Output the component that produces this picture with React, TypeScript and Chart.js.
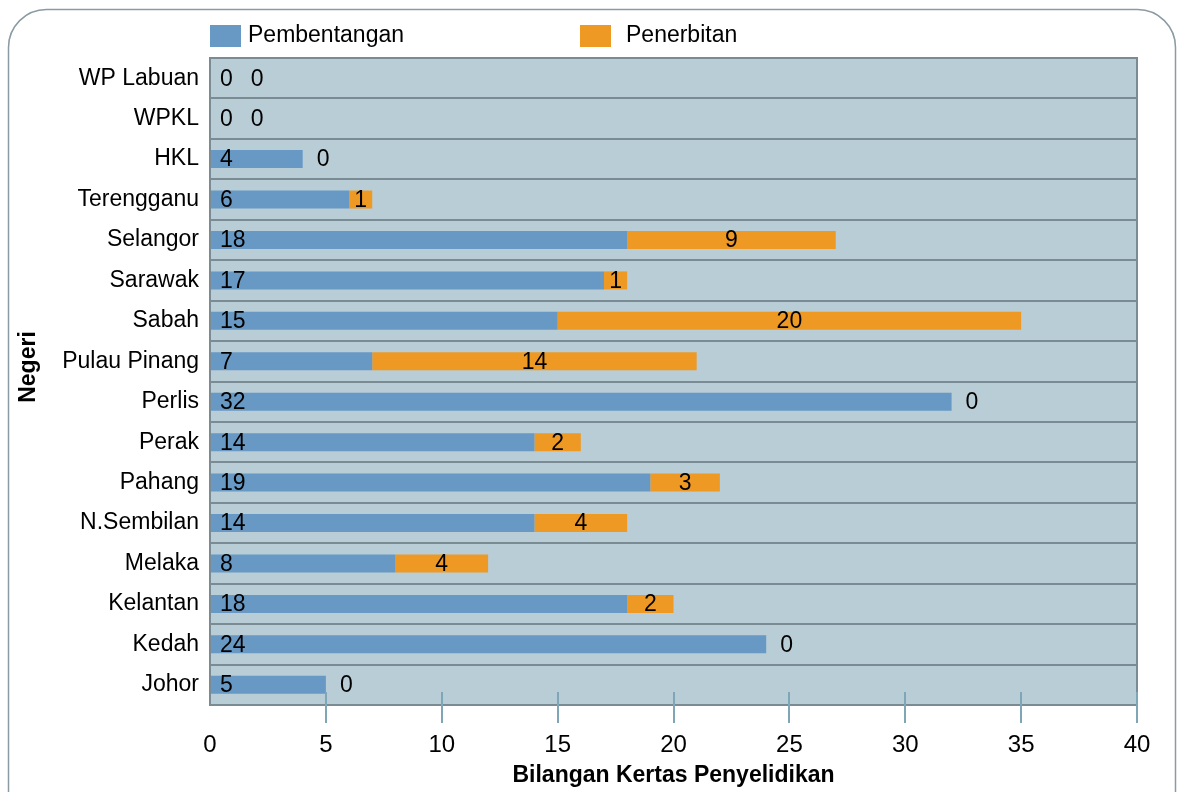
import React, { useEffect, useRef } from "react";
import { Chart, registerables } from "chart.js";

Chart.register(...registerables);

const categories = [
  "WP Labuan",
  "WPKL",
  "HKL",
  "Terengganu",
  "Selangor",
  "Sarawak",
  "Sabah",
  "Pulau Pinang",
  "Perlis",
  "Perak",
  "Pahang",
  "N.Sembilan",
  "Melaka",
  "Kelantan",
  "Kedah",
  "Johor",
];
const pembentangan = [0, 0, 4, 6, 18, 17, 15, 7, 32, 14, 19, 14, 8, 18, 24, 5];
const penerbitan = [0, 0, 0, 1, 9, 1, 20, 14, 0, 2, 3, 4, 4, 2, 0, 0];
const seriesNames = ["Pembentangan", "Penerbitan"];
const seriesColors = ["#6899c4", "#ee9923"];
const xMin = 0;
const xMax = 40;
const xStep = 5;
const xTitle = "Bilangan Kertas Penyelidikan";
const yTitle = "Negeri";

const FONT = '"Liberation Sans", Arial, sans-serif';

const decorPlugin = {
  id: "decor",
  beforeDraw(chart: any) {
    const { ctx, chartArea } = chart;
    ctx.save();
    // outer rounded frame
    ctx.strokeStyle = "#8a9ba4";
    ctx.lineWidth = 1.5;
    ctx.beginPath();
    (ctx as any).roundRect(8.5, 9.5, 1167, 830, 38);
    ctx.stroke();
    // plot background
    ctx.fillStyle = "#b8cdd6";
    ctx.fillRect(chartArea.left, chartArea.top, chartArea.right - chartArea.left, chartArea.bottom - chartArea.top);
    ctx.restore();
  },
  afterDatasetsDraw(chart: any) {
    const { ctx } = chart;
    const m0 = chart.getDatasetMeta(0);
    const m1 = chart.getDatasetMeta(1);
    ctx.save();
    ctx.font = `23px ${FONT}`;
    ctx.fillStyle = "#000";
    ctx.textBaseline = "middle";
    categories.forEach((_, i) => {
      const b0 = m0.data[i];
      const b1 = m1.data[i];
      const y = b0.y + 1;
      const t0 = String(pembentangan[i]);
      ctx.textAlign = "left";
      ctx.fillText(t0, b0.base + 10, y);
      const w0 = ctx.measureText(t0).width;
      const t1 = String(penerbitan[i]);
      if (penerbitan[i] > 0) {
        ctx.textAlign = "center";
        ctx.fillText(t1, (b1.base + b1.x) / 2, y);
      } else {
        ctx.textAlign = "left";
        ctx.fillText(t1, Math.max(b0.x + 14, b0.base + 10 + w0 + 18), y);
      }
    });
    ctx.restore();
  },
  afterDraw(chart: any) {
    const { ctx, chartArea } = chart;
    const xs = chart.scales.x;
    ctx.save();
    // plot frame
    ctx.strokeStyle = "#7a8b94";
    ctx.lineWidth = 2;
    ctx.strokeRect(chartArea.left, chartArea.top, chartArea.right - chartArea.left, chartArea.bottom - chartArea.top);
    // tick marks
    ctx.strokeStyle = "#7fa6b6";
    ctx.lineWidth = 2;
    for (let v = xMin + xStep; v <= xMax; v += xStep) {
      const px = Math.round(xs.getPixelForValue(v));
      ctx.beginPath();
      ctx.moveTo(px, chartArea.bottom - 13);
      ctx.lineTo(px, chartArea.bottom + 18);
      ctx.stroke();
    }
    // legend
    const legendX = [210, 580];
    ctx.font = `23px ${FONT}`;
    ctx.textBaseline = "alphabetic";
    ctx.textAlign = "left";
    seriesNames.forEach((name, i) => {
      ctx.fillStyle = seriesColors[i];
      ctx.fillRect(legendX[i], 25, 31, 22);
      ctx.fillStyle = "#000";
      ctx.fillText(name, legendX[i] + (i === 0 ? 38 : 46), 42);
    });
    // axis titles
    ctx.font = `bold 23px ${FONT}`;
    ctx.textAlign = "center";
    ctx.fillText(xTitle, (chartArea.left + chartArea.right) / 2, 782);
    ctx.translate(35, 367);
    ctx.rotate(-Math.PI / 2);
    ctx.fillText(yTitle, 0, 0);
    ctx.restore();
  },
};

export default function App() {
  const ref = useRef<HTMLCanvasElement | null>(null);
  useEffect(() => {
    if (!ref.current) return;
    const chart = new Chart(ref.current, {
      type: "bar",
      data: {
        labels: categories,
        datasets: [
          {
            label: seriesNames[0],
            data: pembentangan,
            backgroundColor: seriesColors[0],
            borderWidth: 0,
            barPercentage: 0.445,
            categoryPercentage: 1,
          },
          {
            label: seriesNames[1],
            data: penerbitan,
            backgroundColor: seriesColors[1],
            borderWidth: 0,
            barPercentage: 0.445,
            categoryPercentage: 1,
          },
        ],
      },
      options: {
        indexAxis: "y",
        responsive: false,
        animation: false,
        layout: { padding: { top: 58, right: 41, left: 0, bottom: 0 } },
        plugins: { legend: { display: false }, tooltip: { enabled: false } },
        scales: {
          x: {
            stacked: true,
            min: xMin,
            max: xMax,
            ticks: { stepSize: xStep, color: "#000", font: { family: FONT, size: 24 }, padding: 26 },
            grid: { display: false, drawTicks: false },
            border: { display: false },
            afterFit: (s: any) => {
              s.height = 87;
            },
          },
          y: {
            stacked: true,
            ticks: { color: "#000", font: { family: FONT, size: 23 }, padding: 11 },
            grid: { color: "#7a8b94", lineWidth: 2, drawTicks: false, offset: true },
            border: { display: false },
            afterFit: (s: any) => {
              s.width = 210;
            },
          },
        },
      },
      plugins: [decorPlugin],
    } as any);
    return () => chart.destroy();
  }, []);
  return (
    <canvas
      ref={ref}
      width={1178}
      height={792}
      style={{ position: "fixed", left: 0, top: 0, width: 1178, height: 792, display: "block" }}
    />
  );
}
